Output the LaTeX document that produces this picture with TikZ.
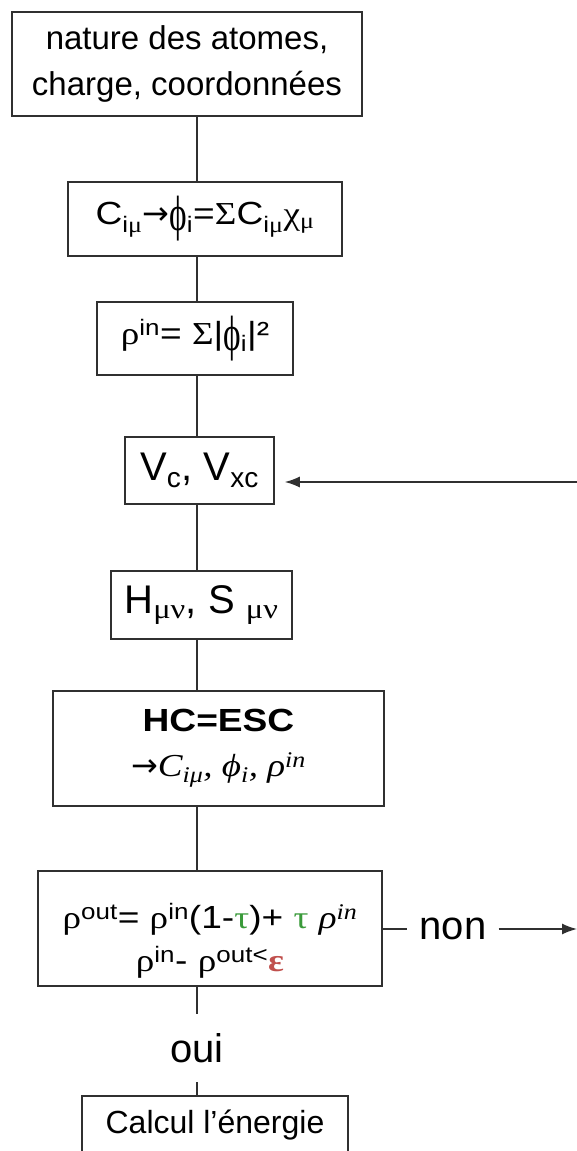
\documentclass[tikz,border=0pt]{standalone}
\usepackage{fontspec}
\usepackage{graphicx}
\setmainfont{Liberation Sans}
\newfontfamily\formule[FakeStretch=1.16]{Liberation Sans}
\newfontfamily\grecfont[FakeStretch=1.16]{Liberation Serif}
\newfontfamily\flechefont{DejaVu Sans}
\usepackage{xcolor}
\usetikzlibrary{arrows.meta, positioning}
\definecolor{traitgris}{HTML}{303030}
\definecolor{tauvert}{HTML}{3A9A3A}
\definecolor{epsrouge}{HTML}{C0504D}
\newcommand{\gr}[1]{{\grecfont #1}}
\newcommand{\fphi}{\raisebox{-0.2em}{\scalebox{0.9}[1.55]{\gr{ϕ}}}}
\newcommand{\fl}{{\flechefont →}}
\tikzstyle{bloc} = [
  rectangle, draw=traitgris, line width=1.5pt,
  align=center, inner sep=0pt,
  font=\fontsize{32}{44}\selectfont
]
\tikzstyle{trait} = [draw=traitgris, line width=1.5pt]
\tikzstyle{fleche} = [-{Latex[length=15pt,width=11pt]}, draw=traitgris, line width=1.5pt]
\tikzstyle{reponse} = [font=\fontsize{40}{40}\selectfont, inner xsep=12pt, inner ysep=19.5pt]

\begin{document}
\begin{tikzpicture}[x=1pt, y=-1pt]
  \useasboundingbox (0,0) rectangle (577,1151);
  \clip (0,0) rectangle (577,1151);

  % Axe et bords
  \coordinate (axe) at (197,0);
  \coordinate (retour) at (577,482);
  \coordinate (sortie) at (577,931);

  % Blocs
  \node[bloc, minimum width=350pt, minimum height=104pt, font=\fontsize{33}{46}\selectfont] (donnees) at (187,64) {nature des atomes,\\charge, coordonnées};
  \node[bloc, minimum width=274pt, minimum height=74pt, font=\fontsize{32}{44}\formule] (coeffs) at (205,219) {C\textsubscript{i\gr{μ}}\fl\fphi\textsubscript{i}=\gr{Σ}C\textsubscript{i\gr{μ}}\gr{χ}\textsubscript{\gr{μ}}};
  \node[bloc, minimum width=196pt, minimum height=73pt, font=\fontsize{32}{44}\formule] (densite) at (195,338.5) {\gr{ρ}\textsuperscript{in}= \gr{Σ}|\fphi\textsubscript{i}|²};
  \node[bloc, minimum width=149pt, minimum height=67pt, font=\fontsize{40}{44}\selectfont] (potentiel) at (199.5,470.5) {V\textsubscript{c}, V\textsubscript{xc}};
  \node[bloc, minimum width=181pt, minimum height=68pt, font=\fontsize{40}{44}\selectfont] (hamilt) at (201.5,605) {H\textsubscript{\gr{μν}}, S \textsubscript{\gr{μν}}};
  \node[bloc, minimum width=331pt, minimum height=115pt, font=\fontsize{32}{45}\formule] (diag) at (218.5,748.5) {\textbf{HC=ESC}\\\fl{\grecfont\itshape C\textsubscript{iμ}, ϕ\textsubscript{i}, ρ\textsuperscript{in}}};
  \node[bloc, minimum width=344pt, minimum height=115pt, font=\fontsize{32}{43}\formule] (convergence) at (210,928.5) {\rule{0pt}{50pt}\gr{ρ}\textsuperscript{out}= \gr{ρ}\textsuperscript{in}(1-\textcolor{tauvert}{\gr{τ}})+ \textcolor{tauvert}{\gr{τ}} {\grecfont\itshape ρ\textsuperscript{in}}\\\gr{ρ}\textsuperscript{in}- \gr{ρ}\textsuperscript{out<}\textcolor{epsrouge}{\gr{\bfseries ε}}};
  \node[bloc, minimum width=266pt, minimum height=58pt] (energie) at (215,1125) {Calcul l’énergie};

  % Reponses
  \node[reponse] (non) at (453,929) {non};
  \node[reponse] (oui) at (197,1048) {oui};

  % Liaisons
  \foreach \a/\b in {donnees/coeffs, coeffs/densite, densite/potentiel, potentiel/hamilt, hamilt/diag, diag/convergence}
    \draw[trait] (\a.south -| axe) -- (\b.north -| axe);
  \draw[trait] (convergence.south -| axe) -- (oui.north);
  \draw[trait] (oui.south) -- (energie.north -| axe);
  \draw[trait] (convergence.east |- non.west) -- (non.west);
  \draw[fleche] (non.east) -- (non.east -| sortie);
  \draw[fleche, shorten >=10pt] (retour) -- (retour -| potentiel.east);

\end{tikzpicture}
\end{document}
